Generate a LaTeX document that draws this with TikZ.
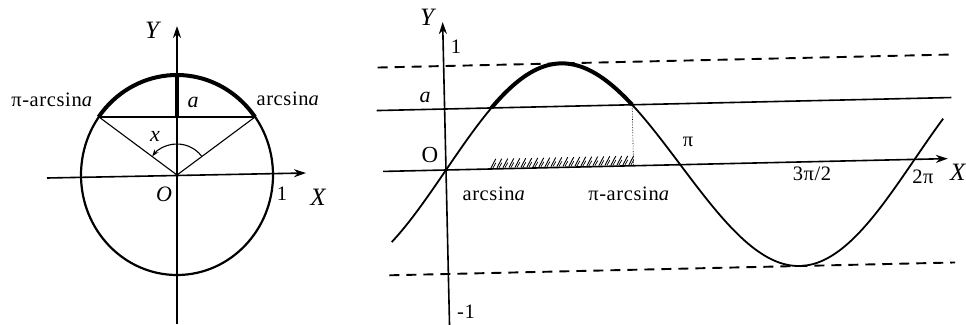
\documentclass[tikz,border=0pt]{standalone}
\usepackage{fontspec}
\setmainfont{Liberation Serif}
\usetikzlibrary{arrows.meta,calc}
\begin{document}
\begin{tikzpicture}[x=1pt,y=1pt,
  axis/.style={line width=1.6pt,-{Stealth[length=12pt,width=8pt]}},
  lbl/.style={inner sep=0pt,font=\fontsize{20.5}{22}\selectfont\addfontfeature{LetterSpace=3}},
  ital/.style={inner sep=0pt,font=\fontsize{22}{24}\selectfont\itshape},
  big/.style={inner sep=0pt,font=\fontsize{25}{28}\selectfont\itshape},
  thin/.style={line width=1.1pt},
  heavy/.style={line width=4pt}]
\useasboundingbox (0,0) rectangle (966,-324);
% ---------------- left: unit circle ----------------
\coordinate (O) at (177,-175);
\coordinate (R) at (255,-117);
\coordinate (L) at (99,-117);
\coordinate (T) at (177,-75);
\coordinate (C) at (177,-117);
\draw[line width=2.2pt] (O) ellipse [x radius=96pt, y radius=100pt];
\draw[heavy] (R) arc[start angle=35.45, end angle=144.55, x radius=96pt, y radius=100pt];
\draw[axis] (47,-178) coordinate (xl) -- (306,-173) coordinate (xr);
\draw[axis] (177,-324) coordinate (yb) -- (177,-26) coordinate (yt);
\draw[heavy] (T) -- (C);
\draw[thin] (L) -- (R);
\draw[thin] (O) -- (L);
\draw[thin] (O) -- (R);
\draw[thin,-{Stealth[length=7pt,width=5pt]}] ($(O)+(38:31)$) arc[start angle=38, end angle=143, radius=31pt];
\node[big] (lY) at (152,-30) {Y};
\node[big] (lX) at (318,-197) {X};
\node[lbl] (l1) at (282,-194) {1};
\node[ital] (lO) at (164,-194) {O};
\node[ital] (la) at (193,-102) {a};
\node[ital] (lx) at (155,-136) {x};
\node[lbl] (lpa) at (52,-100) {π-arcsin\textit{a}};
\node[lbl] (lra) at (288,-99) {arcsin\textit{a}};
% ---------------- right: sine graph ----------------
\begin{scope}[shift={(446,-170)}, rotate=1.3]
  \coordinate (P) at (0,0);
  \draw[line width=1.9pt, dash pattern=on 10pt off 7pt] (-66,104) coordinate (tl) -- (507,104) coordinate (tr);
  \draw[line width=1.9pt, dash pattern=on 10pt off 7pt] (-59,-104) coordinate (bl) -- (507,-104) coordinate (br);
  \draw[line width=1.6pt] (-68,61) coordinate (al) -- (507,61) coordinate (ar);
  \draw[axis] (-63,0) coordinate (xa) -- (502,0) coordinate (xb);
  \draw[axis] (0,-156) coordinate (ya) -- (0,148) coordinate (yb2);
  \draw[line width=1.8pt] plot[domain=-0.75:6.68, samples=120, smooth] ({\x*74.6},{104*sin(\x r)});
  \draw[line width=4pt] plot[domain=0.627:2.515, samples=40, smooth] ({\x*74.6},{104*sin(\x r)});
  \coordinate (Q) at (187.6,61);
  \coordinate (Qb) at (187.6,0);
  \draw[line width=0.6pt, densely dotted] (Q) -- (Qb);
  \foreach \u in {45,51,...,183} {
    \draw[line width=0.9pt] (\u,1) -- (\u+5,10);
    \draw[line width=0.7pt] (\u+2,1) -- (\u+5,6);
  }
\end{scope}
\node[big] (rY) at (427,-17) {Y};
\node[lbl] (r1) at (456,-47) {1};
\node[ital] (ra) at (425,-97) {a};
\node[lbl,font=\fontsize{23}{25}\selectfont] (rO) at (430,-155) {O};
\node[lbl] (rarc) at (494,-194) {arcsin\textit{a}};
\node[lbl] (rpa) at (629,-194) {π-arcsin\textit{a}};
\node[lbl] (rpi) at (688,-142) {π};
\node[lbl] (r32) at (812,-174) {3π/2};
\node[lbl] (r2p) at (923,-177) {2π};
\node[lbl] (rm1) at (466,-312) {-1};
\node[big,anchor=west] (rX) at (950,-172) {X};
\end{tikzpicture}
\end{document}
